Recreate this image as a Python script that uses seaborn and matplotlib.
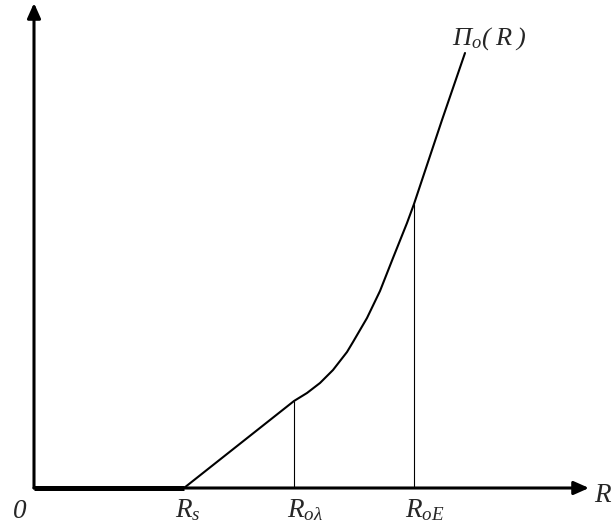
import matplotlib
matplotlib.use('Agg')
import matplotlib.pyplot as plt
import seaborn as sns
import pandas as pd

# Кривая П_o(R), значения (условные единицы)
R = [0.00, 1.50, 2.60, 2.73, 2.86, 2.99, 3.13, 3.19, 3.33, 3.46, 3.59, 3.73, 3.80, 3.98, 4.08, 4.31]
P = [0.00, 0.00, 0.87, 0.95, 1.05, 1.18, 1.36, 1.46, 1.70, 1.97, 2.30, 2.65, 2.84, 3.38, 3.68, 4.35]

# Характерные точки на оси R
marks_x = [2.60, 3.80]
marks_y = [0.87, 2.84]

tick_pos = [-0.22, 1.41, 2.53, 3.71]
tick_labels = ['$0$', '$R_s$', r'$R_{o\lambda}$', '$R_{oE}$']

sns.set_style('white')
plt.rcParams['font.family'] = ['Liberation Serif', 'DejaVu Serif']
plt.rcParams['mathtext.fontset'] = 'custom'
# на рисунке всё курсивом
plt.rcParams['mathtext.rm'] = 'Liberation Serif:italic'
plt.rcParams['mathtext.it'] = 'Liberation Serif:italic'

df = pd.DataFrame({'R': R, 'P': P})

fig = plt.figure(figsize=(6.16, 5.31), dpi=100)
ax = fig.add_axes([0, 0, 1, 1])
ax.set_xlim(-0.34, 5.82)
ax.set_ylim(-0.43, 4.88)
ax.axis('off')

# оси со стрелками
arrow = dict(arrowstyle='-|>,head_length=0.9,head_width=0.4', lw=2.2,
             color='black', shrinkA=0, shrinkB=0)
ax.annotate('', xy=(5.55, 0), xytext=(0, 0), arrowprops=arrow)
ax.annotate('', xy=(0, 4.85), xytext=(0, 0), arrowprops=arrow)

# кривая
sns.lineplot(data=df, x='R', y='P', sort=False, color='black', lw=1.5, ax=ax)
ax.plot(R[:2], P[:2], color='black', lw=3.6, solid_capstyle='butt')

# вертикальные линии
ax.vlines(marks_x, 0, marks_y, color='black', lw=0.8)

# подписи
for x, t in zip(tick_pos, tick_labels):
    ax.text(x, -0.295, t, fontsize=19.5, ha='left', va='baseline')
ax.text(5.60, -0.14, '$R$', fontsize=19.5, ha='left', va='baseline')
ax.text(4.18, 4.43, r'$\Pi_o(\;R\;)$', fontsize=19, ha='left', va='baseline')

fig.savefig('out.png', dpi=100)
